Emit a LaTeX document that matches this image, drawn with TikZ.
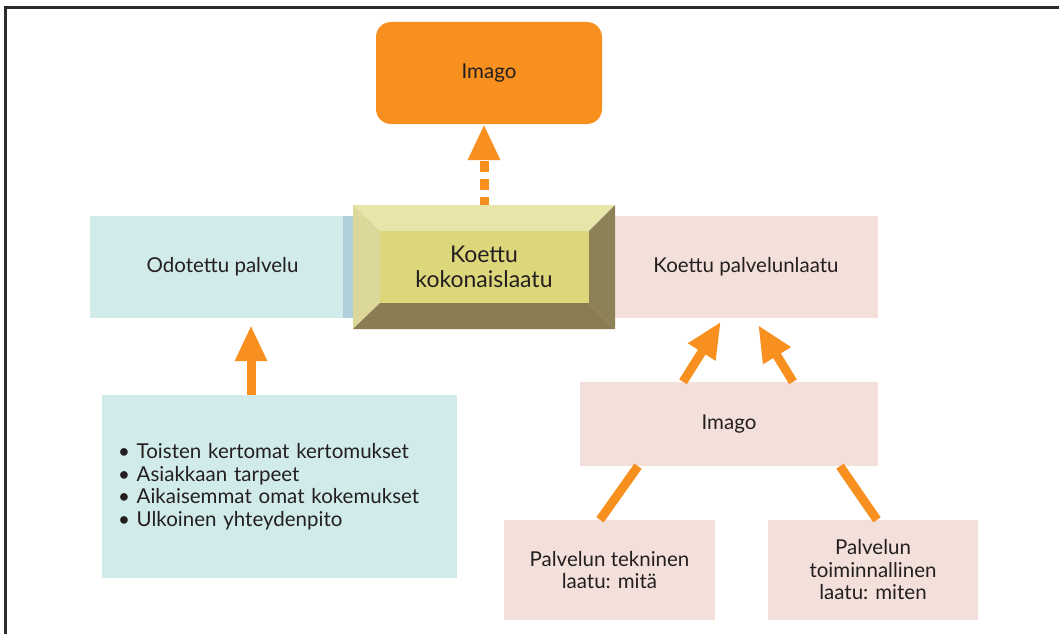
\documentclass[tikz,border=0pt]{standalone}
\usepackage{fontspec}
\setmainfont{Lato}
\usepackage{xcolor}
\usetikzlibrary{arrows.meta}

\definecolor{imagoorange}{HTML}{F7901E}
\definecolor{paleblue}{HTML}{D1EAEA}
\definecolor{stripblue}{HTML}{AFCFDA}
\definecolor{palepink}{HTML}{F3E0DA}
\definecolor{textgray}{HTML}{231F20}
\definecolor{framegray}{HTML}{2B2B2B}
\definecolor{bevtop}{HTML}{E8E4AA}
\definecolor{bevleft}{HTML}{DCD89C}
\definecolor{bevface}{HTML}{DDD77C}
\definecolor{bevright}{HTML}{8D8158}
\definecolor{bevbot}{HTML}{8C7C53}

\begin{document}
\begin{tikzpicture}[
    x=1pt, y=-1pt,
    font=\fontsize{20.5}{22.5}\selectfont,
    box/.style={inner sep=0pt, text=textgray, align=center},
    bluebox/.style={box, fill=paleblue},
    pinkbox/.style={box, fill=palepink},
    arr/.style={draw=imagoorange, line width=9pt,
                -{Triangle[length=36pt, width=30pt]}},
    feed/.style={draw=imagoorange, line width=9pt},
]
\useasboundingbox (0,0) rectangle (1059,634);

% frame
\draw[line width=3pt, framegray] (5.5,634) -- (5.5,7.5) -- (1059,7.5);

% top
\node[box, fill=imagoorange, rounded corners=15pt, minimum width=226pt,
      minimum height=102pt] (imago) at (489,73) {Imago};

% middle row
\node[bluebox, minimum width=265pt, minimum height=102pt] (expected) at (222.5,267) {Odotettu palvelu};
\fill[stripblue] (343,216) rectangle (355,318);
\node[pinkbox, minimum width=264pt, minimum height=102pt] (perceived) at (746,267) {Koettu palvelunlaatu};

% bevelled centre box
\fill[bevtop] (353,205) -- (615,205) -- (589,231) -- (380,231) -- cycle;
\fill[bevleft] (353,205) -- (380,231) -- (380,303) -- (353,329) -- cycle;
\fill[bevright] (615,205) -- (615,329) -- (589,303) -- (589,231) -- cycle;
\fill[bevbot] (353,329) -- (615,329) -- (589,303) -- (380,303) -- cycle;
\fill[bevface] (380,231) rectangle (589,303);
\node[box, minimum width=262pt, minimum height=124pt, font=\fontsize{23}{25}\selectfont]
      (total) at (484,267) {Koettu\\kokonaislaatu};

% lower part
\node[bluebox, minimum width=355pt, minimum height=183pt, text width=323pt,
      align=left] (sources) at (279.5,486.5)
      {\textbullet\ Toisten kertomat kertomukset\\
       \textbullet\ Asiakkaan tarpeet\\
       \textbullet\ Aikaisemmat omat kokemukset\\
       \textbullet\ Ulkoinen yhteydenpito\\[6pt]};
\node[pinkbox, minimum width=298pt, minimum height=84pt] (image2) at (729,424) {Imago};
\node[pinkbox, minimum width=211pt, minimum height=100pt] (tech) at (609.5,570)
      {Palvelun tekninen\\laatu: mitä};
\node[pinkbox, minimum width=210pt, minimum height=100pt] (func) at (873,570)
      {Palvelun\\toiminnallinen\\laatu: miten};

% connectors
\draw[arr, dash pattern=on 11pt off 7pt, dash phase=3pt]
    (total.north) -- (total.north |- imago.south);
\draw[arr, shorten >=7pt] ([xshift=-28.5pt]sources.north) -- ([xshift=28.5pt]expected.south);
\draw[arr, shorten >=4pt] ([xshift=-46pt]image2.north) -- ([xshift=-23pt]perceived.south);
\draw[arr, shorten >=8pt] ([xshift=64pt]image2.north) -- ([xshift=8pt]perceived.south);
\draw[feed] ([xshift=-9.5pt]tech.north) -- ([xshift=-91pt]image2.south);
\draw[feed] ([xshift=4pt]func.north) -- ([xshift=111pt]image2.south);
\end{tikzpicture}
\end{document}
